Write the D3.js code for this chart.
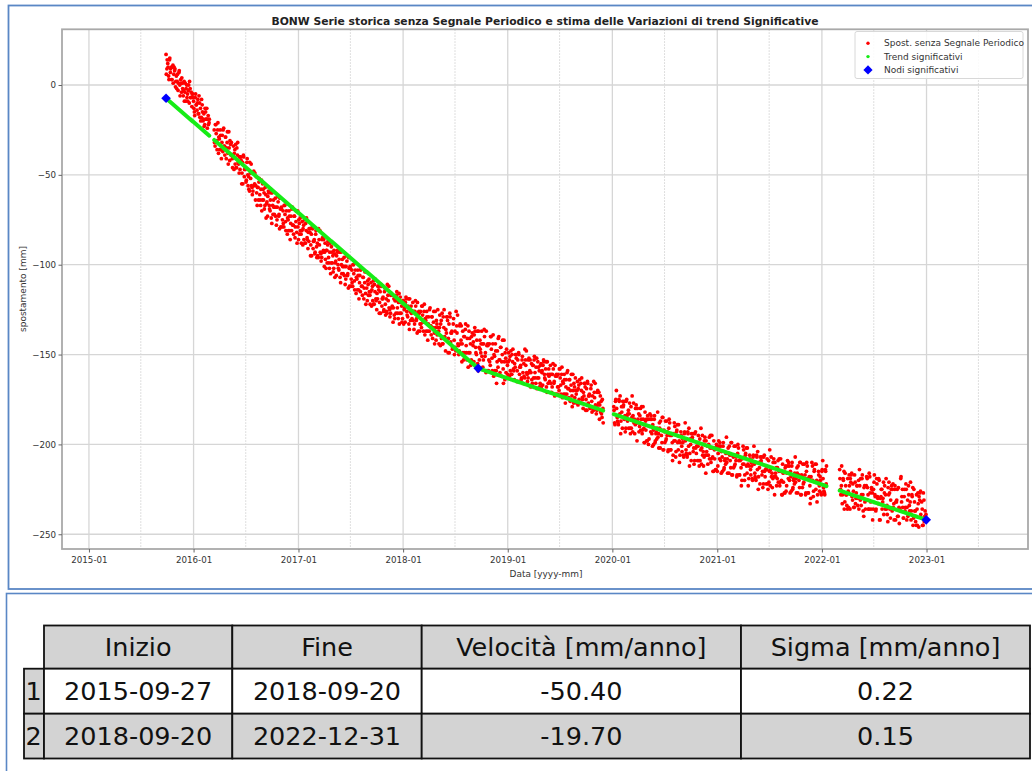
<!DOCTYPE html>
<html>
<head>
<meta charset="utf-8">
<script src="https://cdn.jsdelivr.net/npm/d3@7"></script>
<style>
  html, body { margin: 0; padding: 0; background: #fff; }
  svg { display: block; font-family: "DejaVu Sans", sans-serif; }
</style>
</head>
<body>
<svg id="chart" width="1032" height="771"></svg>
<script>
// ---- Text ----
const chartTitle = "BONW Serie storica senza Segnale Periodico e stima delle Variazioni di trend Significative";
const yLabel = "spostamento [mm]";
const xLabel = "Data [yyyy-mm]";
const legendLabels = ["Spost. senza Segnale Periodico", "Trend significativi", "Nodi significativi"];
const yTicks = [0, -50, -100, -150, -200, -250];
const xTickYears = [2015, 2016, 2017, 2018, 2019, 2020, 2021, 2022, 2023];

// ---- Displacement series (mm) ----
// Four continuous acquisition blocks; two interleaved passes per block,
// each pass sampled every 3 days (second pass one day after the first).
const stepDays = 3;
const blockStarts = ["2015-09-27", "2016-03-13", "2020-01-06", "2022-03-04"];
const blockStarts2 = ["2015-09-28", "2016-03-14", "2020-01-07", "2022-03-05"];

const spostA = [
  17, 9, 12, 5, 14, 7, 10, 3, 11, 6,
  8, -1, 5, 2, -3, 7, 0, 3, -4, 1,
  -6, 2, -4, -9, 0, -5, -3, -10, -2, -7,
  -12, -5, -9, -15, -7, -11, -14, -8, -16, -10,
  -13, -18, -11, -20, -16, -22, -15, -19, -24, -17,
  -21
];
const spostA2 = [
  6, 14, 10, 3, 15, 9, 3, 10, 1, 10,
  9, 2, -2, 6, 1, 8, -6, 1, 4, -2,
  -3, -9, 1, -2, -7, -9, 0, 2, -7, -4,
  -5, -7, -13, -17, -5, -11, -10, -16, -6, -18,
  -20, -8, -15, -19, -23, -13, -19, -13, -19, -22,
  -19
];

const spostB = [
  -25, -34, -22, -31, -25, -38, -30, -25, -36, -32,
  -37, -24, -34, -29, -41, -32, -38, -26, -42, -33,
  -32, -41, -39, -47, -36, -33, -46, -39, -43, -49,
  -47, -40, -55, -43, -39, -51, -47, -54, -43, -50,
  -51, -59, -49, -44, -57, -59, -48, -55, -64, -51,
  -67, -57, -54, -61, -67, -53, -64, -58, -60, -67,
  -61, -66, -73, -59, -67, -70, -60, -77, -67, -64,
  -72, -63, -68, -75, -62, -73, -80, -69, -68, -79,
  -70, -79, -67, -76, -70, -83, -75, -70, -81, -77,
  -81, -68, -78, -73, -85, -76, -82, -70, -86, -77,
  -74, -83, -81, -89, -78, -75, -88, -81, -85, -91,
  -87, -80, -95, -83, -79, -91, -87, -94, -83, -90,
  -88, -96, -86, -81, -94, -96, -85, -92, -101, -88,
  -102, -92, -89, -96, -102, -88, -99, -93, -95, -102,
  -94, -99, -106, -92, -100, -103, -93, -110, -100, -97,
  -105, -96, -101, -108, -95, -106, -113, -102, -101, -112,
  -103, -112, -100, -109, -103, -116, -108, -103, -114, -110,
  -115, -102, -112, -107, -119, -110, -116, -104, -120, -111,
  -108, -117, -115, -123, -112, -109, -122, -115, -119, -125,
  -119, -112, -127, -115, -111, -123, -119, -126, -115, -122,
  -119, -127, -117, -112, -125, -127, -116, -123, -132, -119,
  -130, -120, -117, -124, -130, -116, -127, -121, -123, -130,
  -120, -125, -132, -118, -126, -129, -119, -136, -126, -123,
  -130, -121, -126, -133, -120, -131, -138, -127, -126, -137,
  -126, -135, -123, -132, -126, -139, -131, -126, -137, -133,
  -137, -124, -134, -129, -141, -132, -138, -126, -142, -133,
  -125, -137, -135, -145, -131, -127, -144, -135, -140, -148,
  -138, -129, -149, -133, -127, -143, -138, -147, -133, -142,
  -137, -148, -134, -128, -145, -148, -133, -142, -154, -137,
  -153, -140, -136, -145, -153, -134, -149, -141, -144, -153,
  -138, -145, -154, -135, -146, -150, -137, -159, -146, -142,
  -149, -137, -144, -153, -136, -151, -160, -145, -144, -159,
  -144, -156, -140, -152, -144, -162, -151, -144, -159, -154,
  -157, -140, -153, -146, -162, -150, -158, -142, -164, -152,
  -147, -156, -154, -162, -151, -148, -161, -154, -158, -164,
  -157, -150, -165, -153, -149, -161, -157, -164, -153, -160,
  -155, -163, -153, -148, -161, -163, -152, -159, -168, -155,
  -166, -156, -153, -160, -166, -152, -163, -157, -159, -166,
  -155, -160, -167, -153, -161, -164, -154, -171, -161, -158,
  -165, -156, -161, -168, -155, -166, -173, -162, -161, -172,
  -161, -170, -158, -167, -161, -174, -166, -161, -172, -168,
  -172, -159, -169, -164, -176, -167, -173, -161, -177, -168,
  -163, -172, -170, -178, -167, -164, -177, -170, -174, -180,
  -173, -166, -181, -169, -165, -177, -173, -180, -169, -176,
  -173, -181, -171, -166, -179, -181, -170, -177, -186, -173,
  -176, -185, -180
];
const spostB2 = [
  -32, -22, -27, -36, -21, -29, -36, -28, -41, -28,
  -25, -34, -39, -29, -35, -26, -44, -35, -31, -39,
  -39, -46, -34, -38, -44, -46, -35, -32, -44, -40,
  -40, -42, -49, -55, -40, -47, -46, -53, -41, -56,
  -58, -43, -52, -56, -61, -49, -56, -49, -56, -60,
  -57, -64, -52, -64, -58, -70, -55, -64, -69, -57,
  -74, -65, -62, -60, -69, -64, -74, -60, -72, -68,
  -68, -73, -78, -68, -65, -72, -63, -79, -69, -75,
  -77, -67, -72, -81, -66, -74, -81, -73, -86, -73,
  -69, -78, -83, -73, -79, -70, -88, -79, -75, -83,
  -81, -88, -76, -80, -86, -88, -77, -74, -86, -82,
  -80, -82, -89, -95, -80, -87, -86, -93, -81, -96,
  -95, -80, -89, -93, -98, -86, -93, -86, -93, -97,
  -92, -99, -87, -99, -93, -105, -90, -99, -104, -92,
  -107, -98, -95, -93, -102, -97, -107, -93, -105, -101,
  -101, -106, -111, -101, -98, -105, -96, -112, -102, -108,
  -110, -100, -105, -114, -99, -107, -114, -106, -119, -106,
  -103, -112, -117, -107, -113, -104, -122, -113, -109, -117,
  -115, -122, -110, -114, -120, -122, -111, -108, -120, -116,
  -112, -114, -121, -127, -112, -119, -118, -125, -113, -128,
  -126, -111, -120, -124, -129, -117, -124, -117, -124, -128,
  -120, -127, -115, -127, -121, -133, -118, -127, -132, -120,
  -133, -124, -121, -119, -128, -123, -133, -119, -131, -127,
  -126, -131, -136, -126, -123, -130, -121, -137, -127, -133,
  -133, -123, -128, -137, -122, -130, -137, -129, -142, -129,
  -125, -134, -139, -129, -135, -126, -144, -135, -131, -139,
  -135, -144, -128, -133, -141, -144, -129, -125, -141, -136,
  -129, -131, -141, -149, -129, -138, -137, -146, -130, -150,
  -146, -126, -138, -144, -150, -134, -144, -134, -144, -149,
  -140, -149, -133, -149, -141, -157, -137, -149, -156, -140,
  -155, -143, -139, -137, -149, -142, -155, -137, -153, -147,
  -144, -151, -157, -144, -140, -149, -137, -159, -145, -153,
  -154, -140, -147, -159, -139, -150, -159, -148, -166, -148,
  -141, -153, -160, -146, -154, -142, -166, -154, -149, -160,
  -154, -161, -149, -153, -159, -161, -150, -147, -159, -155,
  -150, -152, -159, -165, -150, -157, -156, -163, -151, -166,
  -162, -147, -156, -160, -165, -153, -160, -153, -160, -164,
  -156, -163, -151, -163, -157, -169, -154, -163, -168, -156,
  -168, -159, -156, -154, -163, -158, -168, -154, -166, -162,
  -161, -166, -171, -161, -158, -165, -156, -172, -162, -168,
  -168, -158, -163, -172, -157, -165, -172, -164, -177, -164,
  -160, -169, -174, -164, -170, -161, -179, -170, -166, -174,
  -170, -177, -165, -169, -175, -177, -166, -163, -175, -171,
  -166, -168, -175, -181, -166, -173, -172, -179, -167, -182,
  -180, -165, -174, -178, -183, -171, -178, -171, -178, -182,
  -183, -175, -188
];

const spostC = [
  -179, -188, -176, -170, -185, -188, -175, -183, -194, -179,
  -191, -179, -176, -184, -191, -175, -187, -181, -183, -191,
  -179, -185, -193, -177, -186, -189, -178, -198, -186, -183,
  -190, -180, -186, -194, -179, -191, -199, -187, -186, -198,
  -186, -197, -183, -193, -186, -201, -192, -186, -199, -194,
  -197, -182, -194, -188, -202, -192, -199, -185, -203, -193,
  -187, -197, -195, -204, -191, -188, -203, -195, -199, -206,
  -198, -190, -207, -193, -189, -203, -198, -206, -193, -201,
  -197, -206, -194, -188, -203, -206, -193, -201, -212, -197,
  -209, -197, -194, -202, -209, -193, -205, -199, -201, -209,
  -197, -203, -211, -195, -204, -207, -196, -216, -204, -201,
  -206, -196, -202, -210, -195, -207, -215, -203, -202, -214,
  -201, -212, -198, -208, -201, -216, -207, -201, -214, -209,
  -211, -196, -208, -202, -216, -206, -213, -199, -217, -207,
  -201, -211, -209, -218, -205, -202, -217, -209, -213, -220,
  -211, -203, -220, -206, -202, -216, -211, -219, -206, -214,
  -210, -219, -207, -201, -216, -219, -206, -214, -225, -210,
  -222, -210, -207, -215, -222, -206, -218, -212, -214, -222,
  -209, -215, -223, -207, -216, -219, -208, -228, -216, -213,
  -219, -209, -215, -223, -208, -220, -228, -216, -215, -227,
  -212, -223, -209, -219, -212, -227, -218, -212, -225, -220,
  -222, -207, -219, -213, -227, -217, -224, -210, -228, -218,
  -211, -221, -219, -228, -215, -212, -227, -219, -223, -230,
  -220, -212, -229, -215, -211, -225, -220, -228, -215, -223,
  -218, -227, -215, -209, -224, -227, -214, -222
];
const spostC2 = [
  -181, -189, -175, -180, -187, -189, -176, -173, -187, -182,
  -176, -178, -186, -193, -176, -184, -183, -191, -177, -194,
  -191, -173, -184, -188, -194, -180, -188, -180, -188, -193,
  -184, -192, -179, -192, -186, -199, -182, -192, -198, -184,
  -200, -190, -186, -184, -194, -189, -200, -184, -198, -193,
  -191, -196, -202, -191, -187, -195, -185, -203, -192, -199,
  -198, -187, -193, -203, -186, -195, -203, -194, -209, -194,
  -188, -198, -204, -192, -199, -189, -210, -199, -195, -204,
  -199, -207, -193, -198, -205, -207, -194, -191, -205, -200,
  -194, -196, -204, -211, -194, -202, -201, -209, -195, -212,
  -209, -191, -202, -206, -212, -198, -206, -198, -206, -211,
  -200, -208, -195, -208, -202, -215, -198, -208, -214, -200,
  -215, -205, -201, -199, -209, -204, -215, -199, -213, -208,
  -205, -210, -216, -205, -201, -209, -199, -217, -206, -213,
  -212, -201, -207, -217, -200, -209, -217, -208, -223, -208,
  -201, -211, -217, -205, -212, -202, -223, -212, -208, -217,
  -212, -220, -206, -211, -218, -220, -207, -204, -218, -213,
  -207, -209, -217, -224, -207, -215, -214, -222, -208, -225,
  -221, -203, -214, -218, -224, -210, -218, -210, -218, -223,
  -213, -221, -208, -221, -215, -228, -211, -221, -227, -213,
  -226, -216, -212, -210, -220, -215, -226, -210, -224, -219,
  -216, -221, -227, -216, -212, -220, -210, -228, -217, -224,
  -222, -211, -217, -227, -210, -219, -227, -218, -233, -218,
  -210, -220, -226, -214, -221, -211, -232, -221, -217, -226,
  -220, -228, -214, -219, -226, -228, -215, -212
];

const spostD = [
  -214, -225, -223, -233, -219, -215, -232, -223, -228, -236,
  -226, -217, -236, -221, -216, -231, -226, -235, -221, -230,
  -223, -234, -220, -214, -231, -234, -219, -228, -240, -223,
  -236, -223, -219, -228, -236, -218, -232, -224, -227, -236,
  -221, -228, -237, -219, -229, -233, -220, -242, -229, -225,
  -232, -221, -227, -236, -219, -234, -243, -228, -227, -241,
  -225, -237, -222, -233, -225, -242, -232, -225, -240, -235,
  -236, -219, -232, -225, -241, -229, -237, -222, -242, -231,
  -223, -234, -232, -242, -228, -224, -241, -232, -237, -245,
  -236, -227, -246, -231, -226, -241, -236, -245, -231, -240,
  -242
];
const spostD2 = [
  -219, -228, -212, -228, -220, -236, -216, -228, -234, -219,
  -235, -223, -219, -217, -229, -222, -235, -217, -233, -227,
  -223, -230, -236, -223, -219, -228, -217, -237, -224, -232,
  -231, -218, -224, -236, -216, -227, -236, -225, -242, -225,
  -217, -229, -236, -222, -230, -219, -242, -230, -225, -236,
  -230, -239, -223, -228, -236, -239, -224, -221, -236, -231,
  -223, -225, -235, -242, -223, -232, -231, -240, -224, -244,
  -237, -218, -229, -235, -241, -225, -235, -225, -235, -240,
  -228, -237, -221, -237, -229, -245, -225, -237, -243, -228,
  -245, -233, -229, -227, -239, -232, -245, -227, -243, -237,
  -239
];

// ---- Significant trend table ----
const inizio = ["2015-09-27", "2018-09-20"];
const fine = ["2018-09-20", "2022-12-31"];
const velocita = [-50.40, -19.70];   // mm/anno
const sigma = [0.22, 0.15];          // mm/anno
const firstNodeValue = -7.4;         // mm at the first node
const tableHeader = ["Inizio", "Fine", "Velocità [mm/anno]", "Sigma [mm/anno]"];

// ---- Build series ----
const parseDate = d3.timeParse("%Y-%m-%d");
const MS_YEAR = 365.25 * 24 * 3600 * 1000;

function pass(vals, start) {
  const d0 = parseDate(start);
  return vals.map((v, i) => ({ date: d3.timeDay.offset(d0, i * stepDays), value: v }));
}
const firstPass = [spostA, spostB, spostC, spostD];
const secondPass = [spostA2, spostB2, spostC2, spostD2];
const blocks = firstPass.map((vals, b) =>
  pass(vals, blockStarts[b]).concat(pass(secondPass[b], blockStarts2[b]))
    .sort((a, c) => a.date - c.date)
);

// Node values follow from the fitted velocities
const nodeDates = inizio.map(parseDate).concat([parseDate(fine[fine.length - 1])]);
const nodeValues = [firstNodeValue];
velocita.forEach((v, i) => {
  nodeValues.push(nodeValues[i] + v * (nodeDates[i + 1] - nodeDates[i]) / MS_YEAR);
});
function trendAt(d) {
  let i = 0;
  while (i < velocita.length - 1 && d > nodeDates[i + 1]) i++;
  return nodeValues[i] + velocita[i] * (d - nodeDates[i]) / MS_YEAR;
}

// ---- Layout ----
const svg = d3.select("#chart");
const plot = { left: 62, right: 1028, top: 29.3, bottom: 549 };

const x = d3.scaleTime()
  .domain([parseDate("2014-09-29"), parseDate("2023-12-21")])
  .range([plot.left, plot.right]);
const y = d3.scaleLinear()
  .domain([-258.2, 31])
  .range([plot.bottom, plot.top]);

function fitWidth(sel, target) {
  const w = sel.node().getComputedTextLength();
  const fs = parseFloat(sel.attr("font-size"));
  sel.attr("font-size", (fs * target / w).toFixed(2));
}

// Panel frames
svg.append("rect").attr("x", 0).attr("y", 0).attr("width", 1032).attr("height", 771).attr("fill", "#fff");
svg.append("rect").attr("x", 8.5).attr("y", 5.5).attr("width", 1040).attr("height", 583.5)
  .attr("fill", "#fff").attr("stroke", "#5a87c5").attr("stroke-width", 1.8);
svg.append("rect").attr("x", 6.5).attr("y", 593.5).attr("width", 1040).attr("height", 200)
  .attr("fill", "#fff").attr("stroke", "#5a87c5").attr("stroke-width", 1.6);

// Grid
const grid = svg.append("g");
const majorDates = xTickYears.map(yr => new Date(yr, 0, 1));
const minorDates = d3.range(2014, 2024).map(yr => new Date(yr, 6, 1))
  .filter(d => d >= x.domain()[0] && d <= x.domain()[1]);
grid.selectAll(".minor").data(minorDates).join("line")
  .attr("x1", d => x(d)).attr("x2", d => x(d))
  .attr("y1", plot.top).attr("y2", plot.bottom)
  .attr("stroke", "#d4d4d4").attr("stroke-width", 1).attr("stroke-dasharray", "1.5,1.5");
grid.selectAll(".vmajor").data(majorDates).join("line")
  .attr("x1", d => x(d)).attr("x2", d => x(d))
  .attr("y1", plot.top).attr("y2", plot.bottom)
  .attr("stroke", "#d6d6d6").attr("stroke-width", 1.3);
grid.selectAll(".hmajor").data(yTicks).join("line")
  .attr("x1", plot.left).attr("x2", plot.right)
  .attr("y1", d => y(d)).attr("y2", d => y(d))
  .attr("stroke", "#d6d6d6").attr("stroke-width", 1.3);

// Displacement points
const pts = svg.append("g");
blocks.forEach(bl => {
  pts.selectAll(null).data(bl).join("circle")
    .attr("cx", d => x(d.date)).attr("cy", d => y(d.value))
    .attr("r", 1.9).attr("fill", "#ff0000");
});

// Trend along each acquisition block
const trendLine = d3.line().x(d => x(d.date)).y(d => y(trendAt(d.date)));
blocks.forEach(bl => {
  svg.append("path").datum(bl).attr("d", trendLine)
    .attr("fill", "none").attr("stroke", "#16ec16").attr("stroke-width", 4)
    .attr("stroke-linecap", "round");
});

// Nodes
const diamond = (cx, cy, r) => `M${cx},${cy - r}L${cx + r},${cy}L${cx},${cy + r}L${cx - r},${cy}Z`;
svg.append("g").selectAll("path")
  .data(nodeDates.map((d, i) => ({ date: d, value: nodeValues[i] }))).join("path")
  .attr("d", d => diamond(x(d.date), y(d.value), 4.8))
  .attr("fill", "#0000ff");

// Frame
svg.append("rect").attr("x", plot.left).attr("y", plot.top)
  .attr("width", plot.right - plot.left).attr("height", plot.bottom - plot.top)
  .attr("fill", "none").attr("stroke", "#a9a9a9").attr("stroke-width", 1.8);

// Axes
const yAxis = d3.axisLeft(y).tickValues(yTicks).tickSize(3.5).tickPadding(2.5)
  .tickFormat(d => d < 0 ? "\u2212" + Math.abs(d) : String(d));
const xAxis = d3.axisBottom(x).tickValues(majorDates).tickSize(3.5).tickPadding(4)
  .tickFormat(d3.timeFormat("%Y-%m"));
const gy = svg.append("g").attr("transform", `translate(${plot.left},0)`).call(yAxis);
const gx = svg.append("g").attr("transform", `translate(0,${plot.bottom})`).call(xAxis);
[gx, gy].forEach(g => {
  g.select(".domain").remove();
  g.selectAll(".tick line").attr("stroke", "#666").attr("stroke-width", 1);
  g.selectAll(".tick text").attr("fill", "#333").attr("font-size", 8.7)
    .attr("font-family", "DejaVu Sans");
});

// Title and axis labels
const t = svg.append("text").attr("x", (plot.left + plot.right) / 2).attr("y", 24.6)
  .attr("text-anchor", "middle").attr("font-weight", "bold").attr("font-size", 10)
  .attr("fill", "#222").text(chartTitle);
fitWidth(t, 547);

const yl = svg.append("text").attr("transform", "translate(26,289) rotate(-90)")
  .attr("text-anchor", "middle").attr("font-size", 8).attr("fill", "#333").text(yLabel);
fitWidth(yl, 86);

const xl = svg.append("text").attr("x", 546).attr("y", 576.5)
  .attr("text-anchor", "middle").attr("font-size", 8).attr("fill", "#333").text(xLabel);
fitWidth(xl, 73);

// Legend
const lg = svg.append("g");
lg.append("rect").attr("x", 855).attr("y", 31.5).attr("width", 168).attr("height", 47).attr("rx", 2)
  .attr("fill", "#fff").attr("fill-opacity", 0.85).attr("stroke", "#d8d8d8").attr("stroke-width", 1);
const legendY = [43.3, 56.6, 69.9];
lg.append("circle").attr("cx", 868).attr("cy", legendY[0]).attr("r", 1.7).attr("fill", "#ff0000");
lg.append("circle").attr("cx", 868).attr("cy", legendY[1]).attr("r", 1.7).attr("fill", "#16ec16");
lg.append("path").attr("d", diamond(868, legendY[2], 4.6)).attr("fill", "#0000ff");
const lt = lg.selectAll("text").data(legendLabels).join("text")
  .attr("x", 884).attr("y", (d, i) => legendY[i] + 3)
  .attr("font-size", 8.5).attr("fill", "#333").text(d => d);
const fs0 = parseFloat(lt.attr("font-size"));
const w0 = lt.node().getComputedTextLength();
lt.attr("font-size", (fs0 * 140 / w0).toFixed(2));

// ---- Table ----
const colEdges = [44, 232.3, 421.7, 741, 1030];
const rowEdges = [625.5, 668.7, 713.7, 758.5];
const labelLeft = 24;
const tableFs = 25.5;
const tg = svg.append("g");
const rowsText = inizio.map((d, i) => [inizio[i], fine[i], velocita[i].toFixed(2), sigma[i].toFixed(2)]);

function cell(x0, x1, y0, y1, fill) {
  tg.append("rect").attr("x", x0).attr("y", y0).attr("width", x1 - x0).attr("height", y1 - y0)
    .attr("fill", fill).attr("stroke", "#111").attr("stroke-width", 1.8);
}
function cellText(str, cx, y0, y1, anchor) {
  tg.append("text").attr("x", cx).attr("y", (y0 + y1) / 2 + tableFs * 0.36)
    .attr("text-anchor", anchor || "middle").attr("font-size", tableFs).attr("fill", "#111").text(str);
}
// header
tableHeader.forEach((h, c) => {
  cell(colEdges[c], colEdges[c + 1], rowEdges[0], rowEdges[1], "#d3d3d3");
  cellText(h, (colEdges[c] + colEdges[c + 1]) / 2, rowEdges[0], rowEdges[1]);
});
// body
rowsText.forEach((row, r) => {
  const y0 = rowEdges[r + 1], y1 = rowEdges[r + 2];
  const fill = r % 2 === 0 ? "#ffffff" : "#d3d3d3";
  cell(labelLeft, colEdges[0], y0, y1, "#d3d3d3");
  cellText(String(r + 1), labelLeft + 1.5, y0, y1, "start");
  row.forEach((v, c) => {
    cell(colEdges[c], colEdges[c + 1], y0, y1, fill);
    cellText(v, (colEdges[c] + colEdges[c + 1]) / 2, y0, y1);
  });
});
</script>
</body>
</html>
